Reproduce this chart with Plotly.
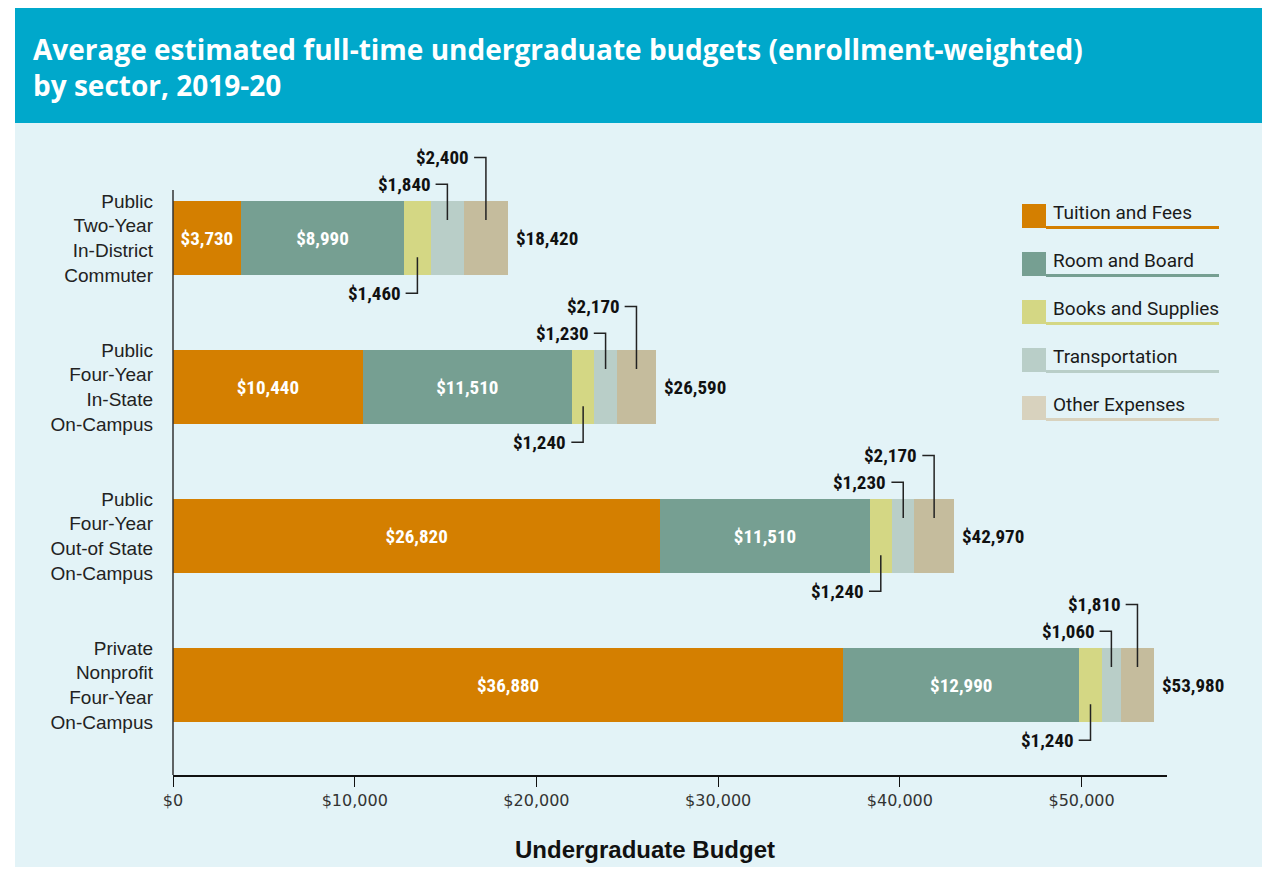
import plotly.graph_objects as go

# sectors, top to bottom
sectors = ["Public<br>Two-Year<br>In-District<br>Commuter",
           "Public<br>Four-Year<br>In-State<br>On-Campus",
           "Public<br>Four-Year<br>Out-of State<br>On-Campus",
           "Private<br>Nonprofit<br>Four-Year<br>On-Campus"]

components = ["Tuition and Fees", "Room and Board", "Books and Supplies",
              "Transportation", "Other Expenses"]

tuition = [3730, 10440, 26820, 36880]
room_board = [8990, 11510, 11510, 12990]
books = [1460, 1240, 1240, 1240]
transport = [1840, 1230, 1230, 1060]
other = [2400, 2170, 2170, 1810]
totals = [18420, 26590, 42970, 53980]

colors = ["#D47F00", "#769F92", "#D4D784", "#B9CEC8", "#C5BC9D"]
legend_colors = ["#D47F00", "#769F92", "#D4D784", "#B9CEC8", "#D8D2BE"]

x_ticks = [0, 10000, 20000, 30000, 40000, 50000]

W, H = 1262, 869
# plot area in pixels (top is above the y-axis line so callouts fit)
L, R, T, B = 173, 1167, 130, 775
AXIS_TOP = 190

NARROW = "Liberation Sans Narrow, Roboto Condensed, Arial Narrow, sans-serif"


def px_x(p):
    return (p - L) / (R - L)


def px_y(p):
    return (B - p) / (B - T)


def money(v):
    return "${:,}".format(v)


rows = list(range(len(sectors)))
series = [tuition, room_board, books, transport, other]

fig = go.Figure()
for i, (name, vals) in enumerate(zip(components, series)):
    txt = [money(v) for v in vals] if i < 2 else None
    fig.add_trace(go.Bar(
        y=rows, x=vals, name=name, orientation="h", width=0.5,
        marker=dict(color=colors[i], line=dict(width=0)),
        text=txt, textposition="inside" if txt else "none",
        insidetextanchor="middle", textangle=0,
        insidetextfont=dict(family=NARROW, size=19, color="white", weight="bold"),
        showlegend=False, hoverinfo="x+name"))

shapes = []
annotations = []

# background panels
shapes.append(dict(type="rect", xref="paper", yref="paper", layer="below",
                   x0=px_x(15), x1=px_x(1262), y0=px_y(123), y1=px_y(867),
                   fillcolor="#E3F3F7", line=dict(width=0)))
shapes.append(dict(type="rect", xref="paper", yref="paper", layer="below",
                   x0=px_x(15), x1=px_x(1262), y0=px_y(8), y1=px_y(123),
                   fillcolor="#00A8CB", line=dict(width=0)))

# y axis line (shorter than the plot area)
shapes.append(dict(type="line", xref="paper", yref="paper", x0=0, x1=0,
                   y0=0, y1=px_y(AXIS_TOP), line=dict(color="#333", width=1.5)))

# callouts for the three small segments
leg = 650
label_font = dict(family=NARROW, size=19, color="#111", weight="bold")
for r in rows:
    start_b = tuition[r] + room_board[r]
    centers = [start_b + books[r] / 2,
               start_b + books[r] + transport[r] / 2,
               start_b + books[r] + transport[r] + other[r] / 2]
    vals = [books[r], transport[r], other[r]]
    # (y start, y end) relative to bar centre
    offs = [(0.13, 0.37), (-0.12, -0.36), (-0.12, -0.54)]
    for c, v, (y0, y1) in zip(centers, vals, offs):
        shapes.append(dict(type="path", xref="x", yref="y",
                           path="M {} {} L {} {} L {} {}".format(c, r + y0, c, r + y1, c - leg, r + y1),
                           line=dict(color="#222", width=1.5)))
        annotations.append(dict(x=c - leg, y=r + y1, xref="x", yref="y",
                                text=money(v), showarrow=False, xanchor="right",
                                yanchor="middle", xshift=-3, font=label_font))
    annotations.append(dict(x=totals[r], y=r, xref="x", yref="y", text=money(totals[r]),
                            showarrow=False, xanchor="left", yanchor="middle",
                            xshift=6, font=label_font))

# custom legend: square + underline
for i, name in enumerate(components):
    top = 204 + 48 * i
    shapes.append(dict(type="rect", xref="paper", yref="paper",
                       x0=px_x(1022), x1=px_x(1046), y0=px_y(top + 24), y1=px_y(top),
                       fillcolor=legend_colors[i], line=dict(width=0)))
    shapes.append(dict(type="rect", xref="paper", yref="paper",
                       x0=px_x(1046), x1=px_x(1219), y0=px_y(top + 25), y1=px_y(top + 22),
                       fillcolor=legend_colors[i], line=dict(width=0)))
    annotations.append(dict(x=px_x(1051), y=px_y(top + 8), xref="paper", yref="paper",
                            text=name, showarrow=False, xanchor="left", yanchor="middle",
                            font=dict(family="Roboto, sans-serif", size=19, color="#1a1a1a")))

# title
annotations.append(dict(
    x=px_x(31), y=px_y(67), xref="paper", yref="paper", xanchor="left", yanchor="middle",
    align="left", showarrow=False,
    text="Average estimated full-time undergraduate budgets (enrollment-weighted)<br>by sector, 2019-20",
    font=dict(family="Open Sans, sans-serif", size=28, color="white", weight="bold")))

# x axis title
annotations.append(dict(x=px_x(645), y=px_y(849), xref="paper", yref="paper",
                        text="Undergraduate Budget", showarrow=False,
                        xanchor="center", yanchor="middle",
                        font=dict(family="Liberation Sans, Arial, sans-serif", size=24,
                                  color="#111", weight="bold")))

y_top = (T - 238) / 149.0
y_bot = (B - 238) / 149.0

fig.update_layout(
    barmode="stack",
    width=W, height=H,
    margin=dict(l=L, r=W - R, t=T, b=H - B, autoexpand=False),
    paper_bgcolor="white",
    plot_bgcolor="rgba(0,0,0,0)",
    showlegend=False,
    shapes=shapes,
    annotations=annotations,
    uniformtext=dict(minsize=19, mode="show"),
    xaxis=dict(range=[0, 54700], tickvals=x_ticks, ticktext=[money(v) for v in x_ticks],
               showgrid=False, zeroline=False, showline=True, linecolor="#111",
               linewidth=2, ticks="outside", ticklen=10, tickcolor="#111", tickwidth=1,
               tickfont=dict(family="DejaVu Sans, sans-serif", size=16, color="#333")),
    yaxis=dict(range=[y_bot, y_top], tickvals=rows, ticktext=sectors,
               showgrid=False, zeroline=False, showline=False,
               ticks="", ticklabelstandoff=19,
               tickfont=dict(family="Liberation Sans, Arial, sans-serif", size=19, color="#222")),
)

fig.write_html("out.html", config={"displayModeBar": False},
               post_script="document.body.style.margin='0';")
